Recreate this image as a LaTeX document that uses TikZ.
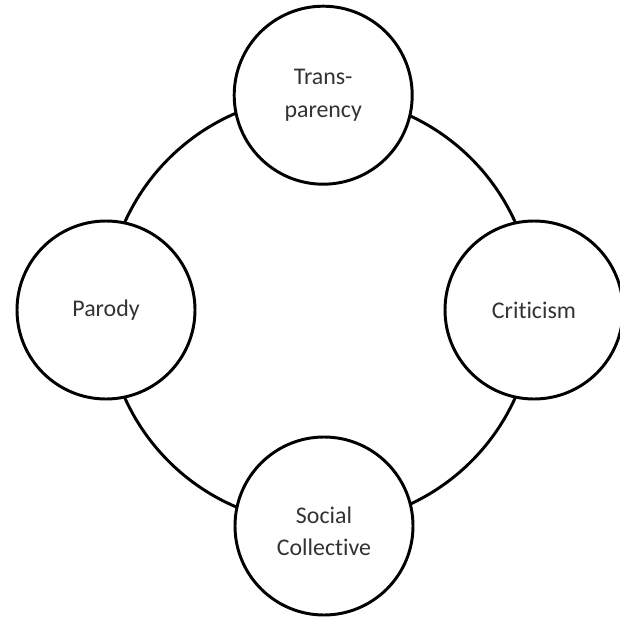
\documentclass[tikz,border=0pt]{standalone}
\usepackage{fontspec}
\setmainfont{Carlito}[Ligatures=NoCommon]
\usepackage{tikz}

\tikzset{
  ring/.style={line width=2.1pt},
  topic/.style={circle,draw,line width=2.1pt,fill=white,
    minimum size=4.45cm,inner sep=0pt,align=center,
    text=black!80,font=\fontsize{17}{23}\selectfont},
}

\begin{document}
\begin{tikzpicture}
  \useasboundingbox (0,0) rectangle (15.5,15.4);
  \coordinate (c) at (8,7.65);
  % the big ring behind the four topics
  \draw[ring]
    (c)
    circle
    [radius=5.35];
  \node[topic] (trans) at (8.08,13.02) {Trans-\\parency};
  \node[topic] (parody) at (2.65,7.65) {Parody};
  \node[topic] (crit) at (13.35,7.65) {Criticism};
  \node[topic] (social) at (8.1,2.25) {\\[-4pt]Social\\Collective};
\end{tikzpicture}
\end{document}
